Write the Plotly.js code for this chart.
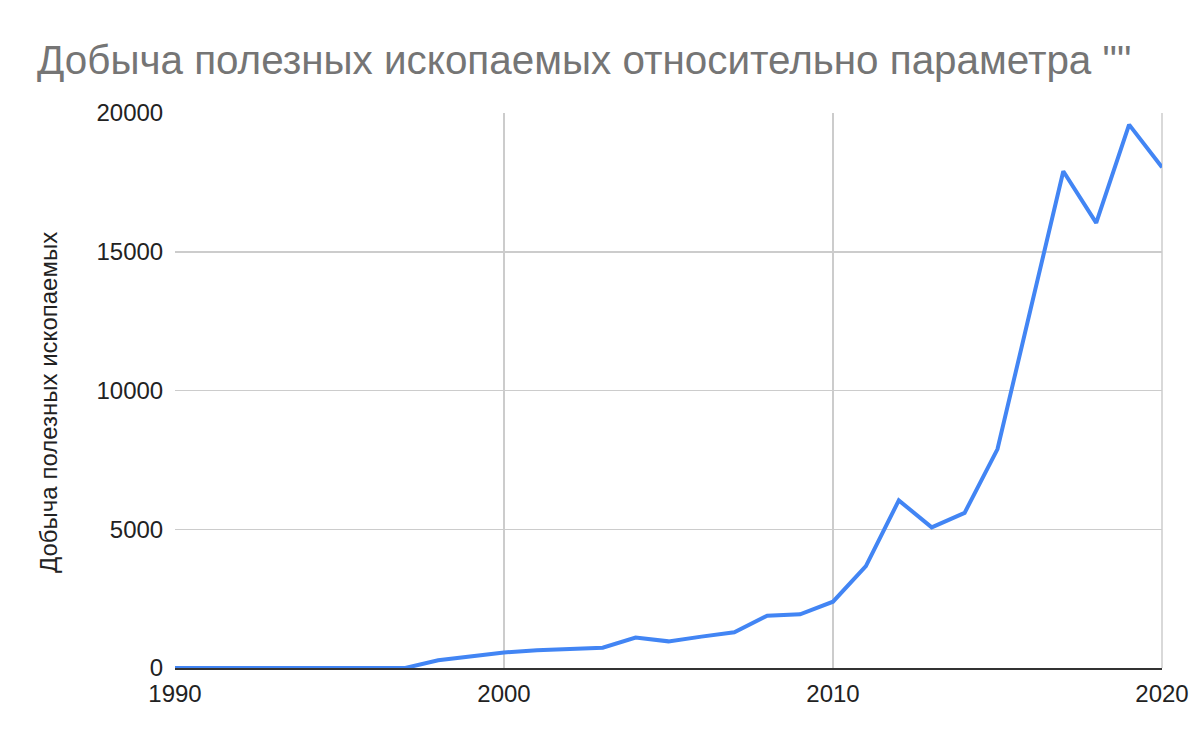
<!DOCTYPE html>
<html>
<head>
<meta charset="utf-8">
<script src="https://cdn.plot.ly/plotly-3.0.1.min.js"></script>
<style>html,body{margin:0;padding:0;background:#fff;}#chart{width:1200px;height:742px;}</style>
</head>
<body>
<div id="chart"></div>
<script>
const years = [1990,1991,1992,1993,1994,1995,1996,1997,1998,1999,2000,2001,2002,2003,2004,2005,2006,2007,2008,2009,2010,2011,2012,2013,2014,2015,2016,2017,2018,2019,2020];
const values = [0,0,0,0,0,0,0,0,280,430,560,640,690,730,1100,960,1130,1290,1885,1935,2390,3670,6040,5070,5590,7890,12900,17900,16040,19580,18040];
const chartTitle = 'Добыча полезных ископаемых относительно параметра ""';
const yTitle = 'Добыча полезных ископаемых';
const xTicks = [1990,2000,2010,2020];
const yTicks = [0,5000,10000,15000,20000];

const font = 'Arial, "Liberation Sans", sans-serif';
const trace = {
  x: years, y: values, type: 'scatter', mode: 'lines',
  line: {color: '#4285F4', width: 4},
  hoverinfo: 'skip'
};
const layout = {
  width: 1200, height: 742,
  margin: {l: 175, r: 38, t: 113, b: 74},
  paper_bgcolor: '#fff', plot_bgcolor: '#fff',
  showlegend: false,
  font: {family: font, color: '#222'},
  title: {
    text: chartTitle,
    font: {family: font, size: 40.4, color: '#757575'},
    xref: 'container', x: 37/1200, xanchor: 'left',
    yref: 'container', y: 1 - 60/742, yanchor: 'middle'
  },
  xaxis: {
    range: [1990, 2020], tickvals: xTicks, ticktext: xTicks.map(String),
    showgrid: true, gridcolor: '#cccccc', gridwidth: 1.5,
    zeroline: false, showline: true, linecolor: '#333333', linewidth: 2,
    ticks: 'outside', ticklen: 3, tickcolor: 'rgba(0,0,0,0)',
    tickfont: {family: font, size: 24, color: '#222'}, fixedrange: true
  },
  yaxis: {
    range: [0, 20000], tickvals: yTicks, ticktext: yTicks.map(String),
    showgrid: true, gridcolor: '#cccccc', gridwidth: 1.5,
    zeroline: false, showline: false,
    ticks: 'outside', ticklen: 6, tickcolor: 'rgba(0,0,0,0)',
    tickfont: {family: font, size: 24, color: '#222'}, fixedrange: true
  },
  shapes: [
    {type: 'line', xref: 'paper', yref: 'paper', x0: 1, x1: 1, y0: 0, y1: 1, line: {color: '#cccccc', width: 1.5}, layer: 'below'}
  ],
  annotations: [{
    text: yTitle, textangle: -90, showarrow: false,
    xref: 'paper', yref: 'paper',
    x: (48 - 175) / 987, y: (668 - 403) / 555,
    xanchor: 'center', yanchor: 'middle',
    font: {family: font, size: 24, color: '#222'}
  }]
};
Plotly.newPlot('chart', [trace], layout, {displayModeBar: false, staticPlot: true});
</script>
</body>
</html>
